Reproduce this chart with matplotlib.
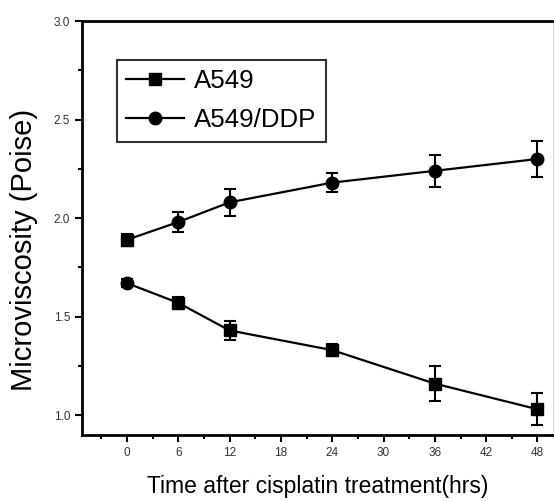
import numpy as np
import matplotlib
matplotlib.use("Agg")
import matplotlib.pyplot as plt
from matplotlib.ticker import MultipleLocator, FormatStrFormatter

# --- Data ---
hours = [0, 6, 12, 24, 36, 48]

a549 = [1.67, 1.57, 1.43, 1.33, 1.16, 1.03]
a549_err = [0.02, 0.03, 0.05, 0.03, 0.09, 0.08]
a549_markers = ['o', 's', 's', 's', 's', 's']

ddp = [1.89, 1.98, 2.08, 2.18, 2.24, 2.30]
ddp_err = [0.03, 0.05, 0.07, 0.05, 0.08, 0.09]
ddp_markers = ['s', 'o', 'o', 'o', 'o', 'o']

series_labels = ['A549', 'A549/DDP']
legend_markers = ['s', 'o']

plt.rcParams.update({
    "font.family": ["Liberation Sans Narrow", "Liberation Sans", "DejaVu Sans"],
})

fig = plt.figure(figsize=(5.54, 5.01), dpi=100)
ax = fig.add_axes([0.148, 0.132, 0.850, 0.826])

handles = []
for ys, errs, mks, lab, lm in zip([a549, ddp], [a549_err, ddp_err],
                                  [a549_markers, ddp_markers],
                                  series_labels, legend_markers):
    ax.errorbar(hours, ys, yerr=errs, fmt='none', ecolor='black',
                elinewidth=1.5, capsize=4, capthick=1.5, zorder=2)
    ax.plot(hours, ys, color='black', lw=1.6, zorder=2)
    for x, y, m in zip(hours, ys, mks):
        ax.plot([x], [y], marker=m, ms=9, color='black', ls='none', zorder=3)
    h, = ax.plot([], [], color='black', lw=1.6, marker=lm, ms=9, label=lab)
    handles.append(h)

ax.set_xlim(-5.25, 49.8)
ax.set_ylim(0.9, 3.0)
ax.xaxis.set_major_locator(MultipleLocator(6))
ax.xaxis.set_minor_locator(MultipleLocator(3))
ax.yaxis.set_major_locator(MultipleLocator(0.5))
ax.yaxis.set_minor_locator(MultipleLocator(0.25))
ax.tick_params(which='major', direction='out', length=5, width=1.5,
               labelsize=8.5, labelcolor='#333333')
ax.tick_params(which='minor', direction='out', length=3, width=1.5)
ax.yaxis.set_major_formatter(FormatStrFormatter('%.1f'))

for side in ['left', 'bottom', 'top']:
    ax.spines[side].set_linewidth(2)
ax.spines['right'].set_linewidth(0.6)
ax.spines['right'].set_color('#cccccc')

ax.set_xlabel('Time after cisplatin treatment(hrs)', fontsize=16.5, labelpad=12)
ax.set_ylabel('Microviscosity (Poise)', fontsize=21)
ax.yaxis.set_label_coords(-0.094, 0.447)

leg = ax.legend(handles=handles, loc='upper left',
                bbox_to_anchor=(0.074, 0.906), borderaxespad=0,
                fontsize=18.6, fancybox=False, frameon=True,
                handlelength=2.25, handletextpad=0.4, labelspacing=0.6,
                borderpad=0.35)
leg.get_frame().set_edgecolor('black')
leg.get_frame().set_linewidth(1.5)

fig.savefig('out.png', dpi=100)
